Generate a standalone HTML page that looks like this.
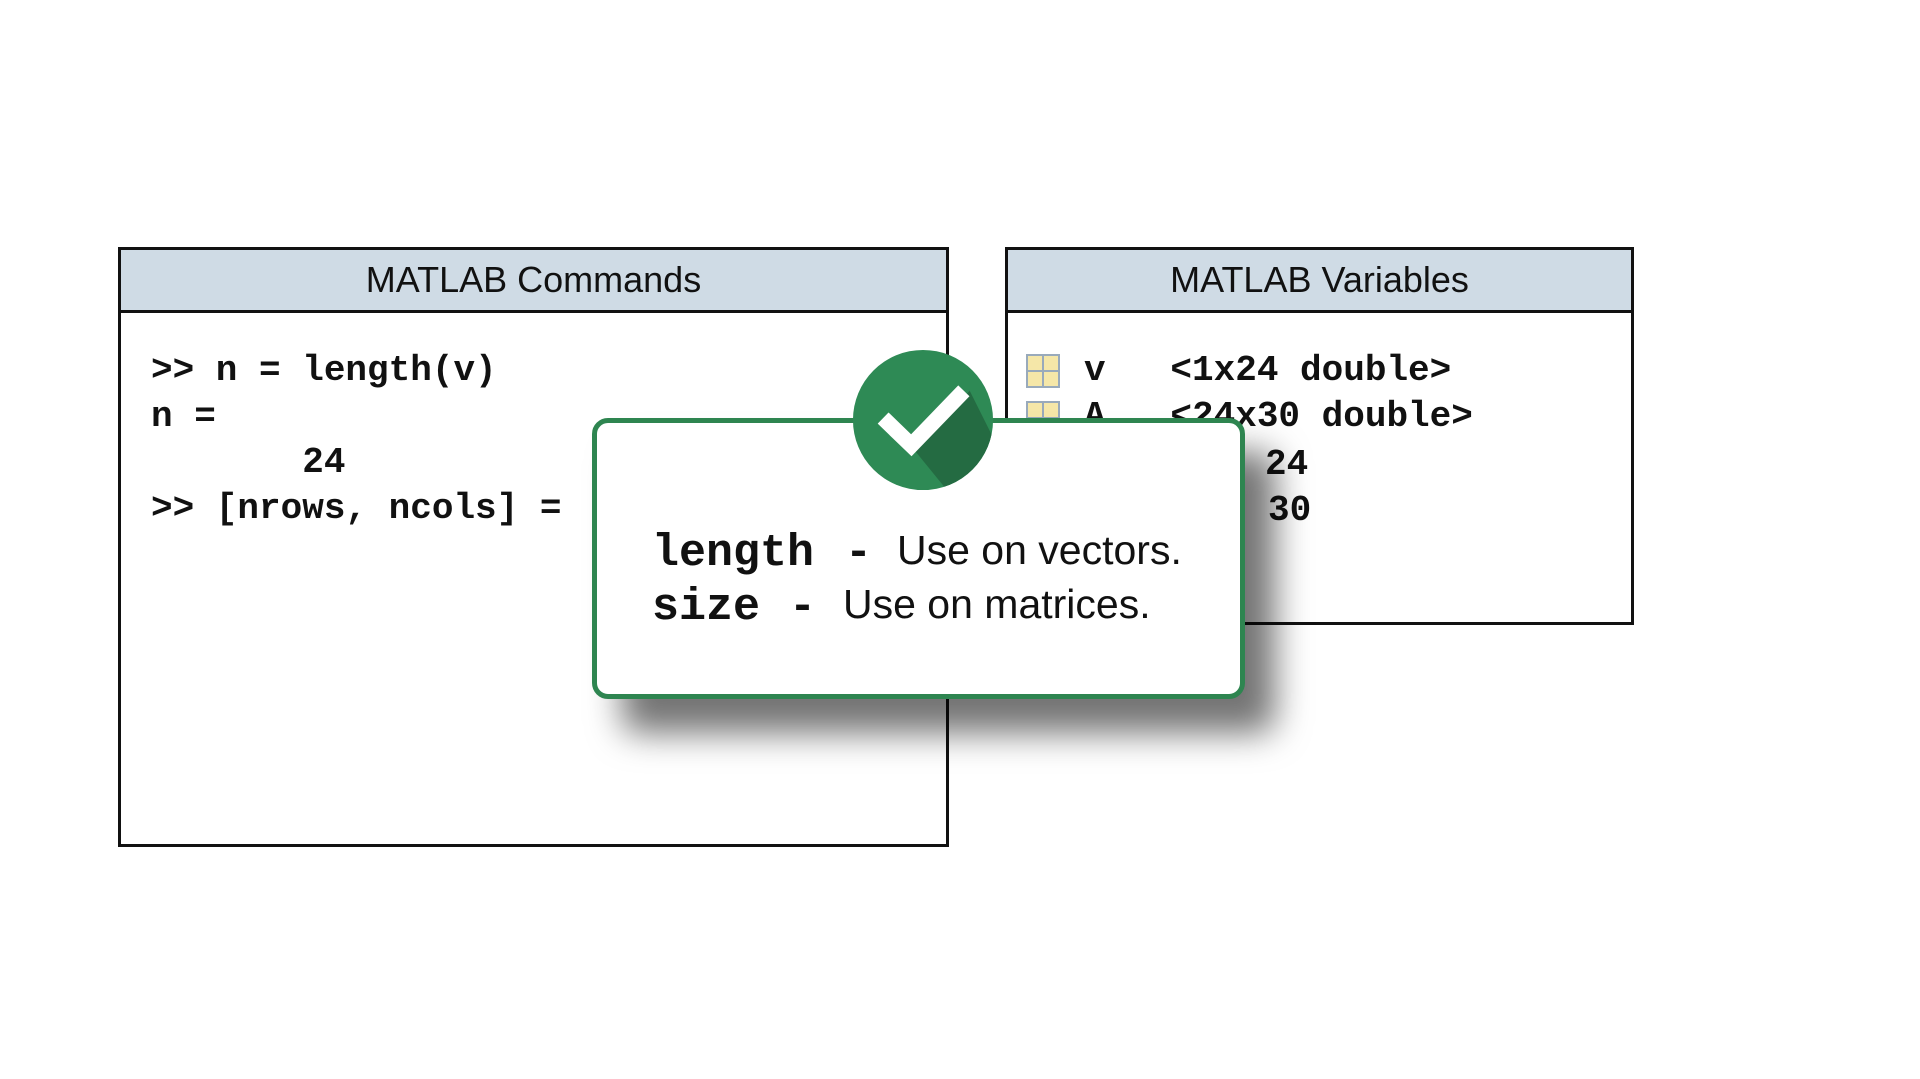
<!DOCTYPE html>
<html><head><meta charset="utf-8"><style>
body{margin:0;width:1920px;height:1079px;background:#fff;position:relative;overflow:hidden;font-family:"Liberation Sans",sans-serif}
.box{position:absolute;border:3px solid #111;background:#fff;box-sizing:border-box}
.hdr{position:absolute;left:0;right:0;top:0;height:60px;background:#cfdbe5;border-bottom:3px solid #111;text-align:center;font-size:36px;line-height:60px;color:#111}
.mono{position:absolute;font-family:"Liberation Mono",monospace;font-weight:bold;color:#111;white-space:pre}
.c{font-size:36px}
.sans{position:absolute;font-size:41px;color:#111;white-space:pre}
</style></head><body>
<div class="box" style="left:118px;top:247px;width:831px;height:600px">
  <div class="hdr">MATLAB Commands</div>
</div>
<div class="mono c" style="left:151px;top:350px">&gt;&gt; n = length(v)</div>
<div class="mono c" style="left:151px;top:396px">n =</div>
<div class="mono c" style="left:151px;top:442px">       24</div>
<div class="mono c" style="left:151px;top:488px">&gt;&gt; [nrows, ncols] =</div>

<div class="box" style="left:1005px;top:247px;width:629px;height:378px">
  <div class="hdr">MATLAB Variables</div>
</div>
<svg style="position:absolute;left:1026px;top:354px" width="34" height="34"><rect x="1" y="1" width="32" height="32" fill="#f5e7a8" stroke="#9ab" stroke-width="2"/><line x1="17" y1="1" x2="17" y2="33" stroke="#9ab" stroke-width="2"/><line x1="1" y1="17" x2="33" y2="17" stroke="#9ab" stroke-width="2"/></svg>
<svg style="position:absolute;left:1026px;top:401px" width="34" height="34"><rect x="1" y="1" width="32" height="32" fill="#f5e7a8" stroke="#9ab" stroke-width="2"/><line x1="17" y1="1" x2="17" y2="33" stroke="#9ab" stroke-width="2"/><line x1="1" y1="17" x2="33" y2="17" stroke="#9ab" stroke-width="2"/></svg>
<div class="mono c" style="left:1084px;top:350px">v   &lt;1x24 double&gt;</div>
<div class="mono c" style="left:1084px;top:396px">A   &lt;24x30 double&gt;</div>
<div class="mono c" style="left:1265px;top:444px">24</div>
<div class="mono c" style="left:1268px;top:490px">30</div>

<div style="position:absolute;left:592px;top:418px;width:653px;height:281px;box-sizing:border-box;border:5px solid #2e8550;border-radius:16px;background:#fff;box-shadow:30px 34px 34px rgba(0,0,0,0.55)"></div>
<div class="mono" style="left:652px;top:528px;font-size:45px">length</div>
<div class="mono" style="left:845px;top:528px;font-size:45px">-</div>
<div class="sans" style="left:897px;top:527px">Use on vectors.</div>
<div class="mono" style="left:652px;top:582px;font-size:45px">size</div>
<div class="mono" style="left:789px;top:582px;font-size:45px">-</div>
<div class="sans" style="left:843px;top:581px">Use on matrices.</div>

<svg style="position:absolute;left:851px;top:348px" width="144" height="144" viewBox="0 0 148 148">
  <defs><clipPath id="cc"><circle cx="74" cy="74" r="72"/></clipPath></defs>
  <circle cx="74" cy="74" r="72" fill="#2e8a55"/>
  <polygon points="66,106 122,44 160,120 110,160" fill="#246b42" clip-path="url(#cc)"/>
  <polyline points="33,72 62,100 116,44" fill="none" stroke="#fff" stroke-width="16"/>
</svg>
</body></html>
